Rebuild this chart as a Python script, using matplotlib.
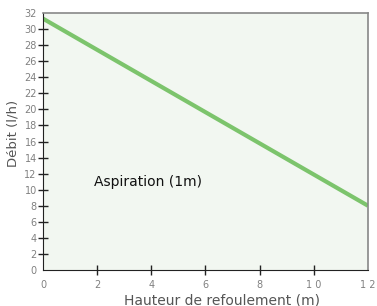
import matplotlib
matplotlib.use("Agg")
import matplotlib.pyplot as plt

# data
hauteur = [0, 12]
debit = [31.3, 8.0]
x_ticks = [0, 2, 4, 6, 8, 10, 12]
x_labels = ["0", "2", "4", "6", "8", "1 0", "1 2"]
y_ticks = list(range(0, 33, 2))

fig = plt.figure(figsize=(3.77, 3.06), dpi=100)
ax = fig.add_axes([43/377, 1 - 270/306, 325/377, 257/306])
ax.set_facecolor("#f2f7f1")

ax.plot(hauteur, debit, color="#7cc46c", lw=3.0, solid_capstyle="butt")
ax.text(1.9, 10.9, "Aspiration (1m)", fontsize=10, color="#111111", va="center")

ax.set_xlim(0, 12)
ax.set_ylim(0, 32)
ax.set_xticks(x_ticks)
ax.set_xticklabels(x_labels)
ax.set_yticks(y_ticks)
ax.tick_params(direction="inout", length=7, width=1, labelsize=7,
               labelcolor="#808080", color="#222222")
ax.tick_params(axis="x", pad=4)
ax.tick_params(axis="y", pad=1)
# hide ticks at the corners
for t in ax.xaxis.get_major_ticks()[::6]:
    t.tick1line.set_visible(False)
for t in (ax.yaxis.get_major_ticks()[0], ax.yaxis.get_major_ticks()[-1]):
    t.tick1line.set_visible(False)

for s in ("left", "bottom"):
    ax.spines[s].set_color("#222222")
for s in ("top", "right"):
    ax.spines[s].set_color("#888888")
    ax.spines[s].set_linewidth(1.2)

fig.text(222/377, 1 - 300/306, "Hauteur de refoulement (m)", fontsize=10,
         color="#555555", ha="center", va="center")
fig.text(13/377, 1 - 133/306, "Débit (l/h)", fontsize=9.5, color="#555555",
         rotation=90, ha="center", va="center")

fig.savefig("out.png", dpi=100)
